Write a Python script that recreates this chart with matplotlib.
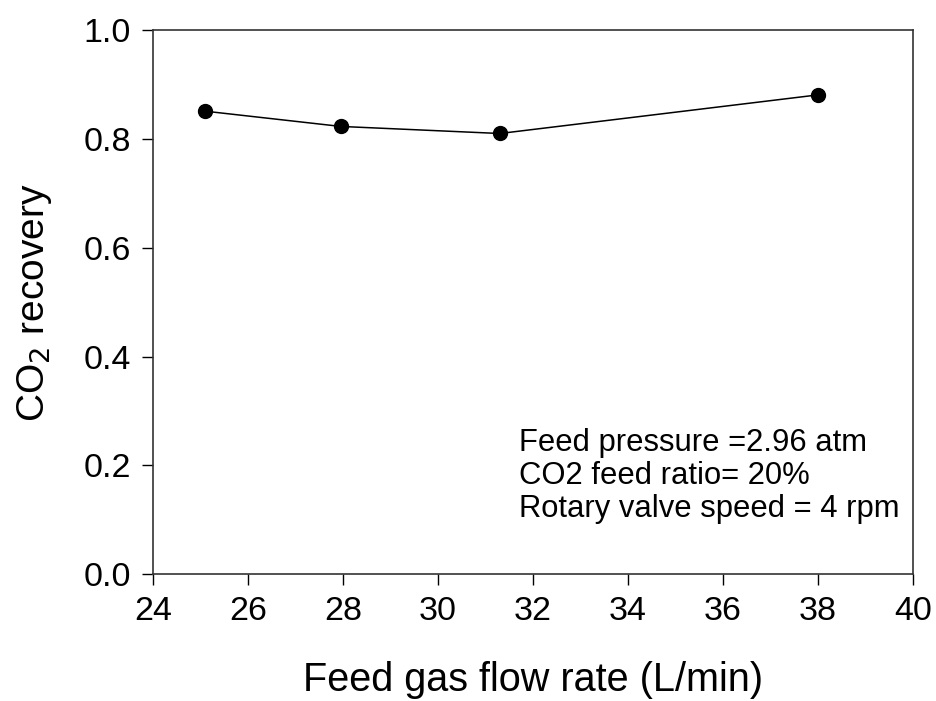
import matplotlib
matplotlib.use("Agg")
import matplotlib.pyplot as plt

plt.rcParams["font.family"] = ["Liberation Sans", "DejaVu Sans"]

# データ
flow_rate = [25.1, 27.95, 31.3, 38.0]      # Feed gas flow rate (L/min)
recovery = [0.851, 0.823, 0.810, 0.881]    # CO2 recovery
x_ticks = [24, 26, 28, 30, 32, 34, 36, 38, 40]
y_ticks = [0.0, 0.2, 0.4, 0.6, 0.8, 1.0]
conditions = ["Feed pressure =2.96 atm",
              "CO2 feed ratio= 20%",
              "Rotary valve speed = 4 rpm"]

fig = plt.figure(figsize=(9.36, 7.01), dpi=100)
ax = fig.add_axes([0.1635, 0.181, 0.812, 0.776])

ax.plot(flow_rate, recovery, color="black", linewidth=1.1,
        marker="o", markersize=10, markerfacecolor="black")

ax.set_xlim(24, 40)
ax.set_ylim(0, 1.0)
ax.set_xticks(x_ticks)
ax.set_yticks(y_ticks)
ax.set_yticklabels([f"{v:.1f}" for v in y_ticks])
ax.tick_params(direction="out", length=8, width=1, labelsize=24.5, pad=8)

for s in ax.spines.values():
    s.set_linewidth(1.2)
    s.set_color("#333333")

ax.set_xlabel("Feed gas flow rate (L/min)", fontsize=28.5, labelpad=24)
ax.set_ylabel("CO$_2$ recovery", fontsize=28, labelpad=21)

# 条件のテキスト
ax.text(0.482, 0.268, "\n".join(conditions), transform=ax.transAxes,
        fontsize=22.3, va="top", ha="left", linespacing=1.12)

fig.savefig("out.png", dpi=100)
